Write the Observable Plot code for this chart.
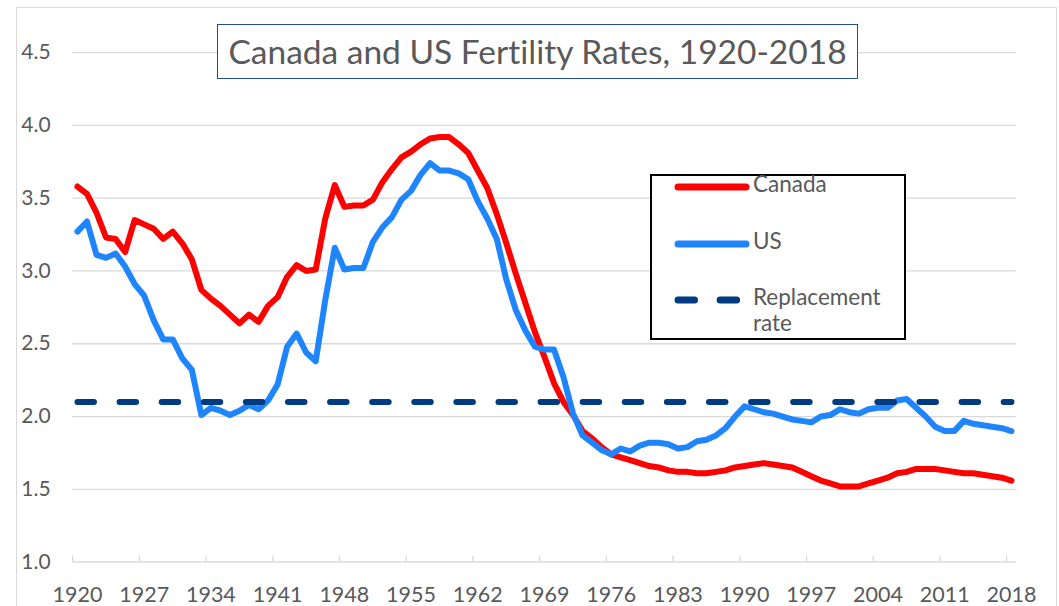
<!DOCTYPE html>
<html>
<head>
<meta charset="utf-8">
<script src="https://cdn.jsdelivr.net/npm/d3@7"></script>
<script src="https://cdn.jsdelivr.net/npm/@observablehq/plot@0.6"></script>
<style>
  html, body { margin: 0; padding: 0; background: #fff; overflow: hidden; }
  #wrap { position: relative; width: 1059px; height: 606px; font-family: Lato, "Open Sans", sans-serif; font-variant-ligatures: none; }
  #wrap svg text { font-variant-ligatures: none; }
  #frame { position: absolute; left: 16px; top: 7px; width: 1041px; height: 640px; box-sizing: border-box; border: 1.5px solid #D9D9D9; pointer-events: none; }
  #title { position: absolute; left: 217px; top: 23.5px; width: 641px; height: 55px; box-sizing: border-box;
           border: 1.5px solid #1F4E8C; background: #fff; color: #595959; font-size: 33.5px;
           display: flex; align-items: center; justify-content: center; white-space: nowrap; }
  #legend { position: absolute; left: 650px; top: 174px; width: 256px; height: 166px; box-sizing: border-box;
            border: 2px solid #000; background: #fff; color: #595959; font-size: 22.5px; }
  #legend svg { position: absolute; left: 0; top: 0; }
  .lt { position: absolute; left: 101px; line-height: 26px; white-space: nowrap; }
</style>
</head>
<body>
<div id="wrap">
  <div id="chart"></div>
  <div id="frame"></div>
  <div id="title">Canada and US Fertility Rates, 1920-2018</div>
  <div id="legend"></div>
</div>
<script>
// ---- data ----
const years = d3.range(1920, 2019);
const canada = [
  3.58, 3.53, 3.40, 3.23, 3.22, 3.13, 3.35, 3.32, 3.29, 3.22,
  3.27, 3.19, 3.08, 2.87, 2.81, 2.76, 2.70, 2.64, 2.70, 2.65,
  2.76, 2.82, 2.96, 3.04, 3.00, 3.01, 3.36, 3.59, 3.44, 3.45,
  3.45, 3.49, 3.61, 3.70, 3.78, 3.82, 3.87, 3.91, 3.92, 3.92,
  3.87, 3.81, 3.69, 3.57, 3.39, 3.19, 2.98, 2.78, 2.58, 2.41,
  2.23, 2.10, 2.01, 1.90, 1.85, 1.79, 1.74, 1.72, 1.70, 1.68,
  1.66, 1.65, 1.63, 1.62, 1.62, 1.61, 1.61, 1.62, 1.63, 1.65,
  1.66, 1.67, 1.68, 1.67, 1.66, 1.65, 1.62, 1.59, 1.56, 1.54,
  1.52, 1.52, 1.52, 1.54, 1.56, 1.58, 1.61, 1.62, 1.64, 1.64,
  1.64, 1.63, 1.62, 1.61, 1.61, 1.60, 1.59, 1.58, 1.56
];
const us = [
  3.27, 3.34, 3.11, 3.09, 3.12, 3.03, 2.91, 2.83, 2.66, 2.53,
  2.53, 2.40, 2.32, 2.01, 2.06, 2.04, 2.01, 2.04, 2.08, 2.05,
  2.11, 2.22, 2.48, 2.57, 2.44, 2.38, 2.80, 3.16, 3.01, 3.02,
  3.02, 3.20, 3.30, 3.37, 3.49, 3.55, 3.66, 3.74, 3.69, 3.69,
  3.67, 3.63, 3.48, 3.36, 3.22, 2.94, 2.73, 2.59, 2.48, 2.46,
  2.46, 2.27, 2.02, 1.87, 1.82, 1.77, 1.74, 1.78, 1.76, 1.80,
  1.82, 1.82, 1.81, 1.78, 1.79, 1.83, 1.84, 1.87, 1.92, 2.00,
  2.07, 2.05, 2.03, 2.02, 2.00, 1.98, 1.97, 1.96, 2.00, 2.01,
  2.05, 2.03, 2.02, 2.05, 2.06, 2.06, 2.11, 2.12, 2.06, 2.00,
  1.93, 1.90, 1.90, 1.97, 1.95, 1.94, 1.93, 1.92, 1.90
];
const replacementRate = 2.1;
const xTickLabels = [1920, 1927, 1934, 1941, 1948, 1955, 1962, 1969, 1976, 1983, 1990, 1997, 2004, 2011, 2018];
const yTicks = [1.0, 1.5, 2.0, 2.5, 3.0, 3.5, 4.0, 4.5];
const seriesNames = ["Canada", "US", "Replacement rate"];
const seriesColors = ["#FF0000", "#1E85FF", "#003A80"];

// ---- tables ----
const canadaRows = years.map((y, i) => ({year: y, value: canada[i]}));
const usRows = years.map((y, i) => ({year: y, value: us[i]}));
const replRows = [{year: years[0], value: replacementRate}, {year: years[years.length - 1], value: replacementRate}];
// category boundaries (Excel "between tick marks"), every 7 categories
const tickBounds = xTickLabels.map(y => y - 0.5);

const chart = Plot.plot({
  width: 1059,
  height: 606,
  marginLeft: 72.2,
  marginRight: 43.3,
  marginTop: 52.1,
  marginBottom: 44.4,
  style: {fontFamily: "Lato, 'Open Sans', sans-serif", background: "transparent", color: "#595959"},
  x: {type: "linear", domain: [years[0] - 0.5, years[years.length - 1] + 0.5]},
  y: {domain: [1, 4.5]},
  marks: [
    Plot.gridY(yTicks.slice(1), {stroke: "#D9D9D9", strokeOpacity: 1, strokeWidth: 1.3}),
    Plot.ruleY([yTicks[0]], {stroke: "#D9D9D9", strokeWidth: 1.5}),
    Plot.axisX(tickBounds, {tickSize: -6, tickFormat: () => "", stroke: "#D9D9D9", strokeWidth: 1.3, label: null}),
    Plot.axisX(xTickLabels, {tickSize: 0, tickPadding: 24.5, tickFormat: d => String(d), fontSize: 21.5, fill: "#595959", label: null}),
    Plot.axisY(yTicks, {tickSize: 0, tickPadding: 22, tickFormat: d3.format(".1f"), fontSize: 21, fill: "#595959", label: null}),
    Plot.line(canadaRows, {x: "year", y: "value", stroke: seriesColors[0], strokeWidth: 6, strokeLinejoin: "round", strokeLinecap: "round"}),
    Plot.line(usRows, {x: "year", y: "value", stroke: seriesColors[1], strokeWidth: 6, strokeLinejoin: "round", strokeLinecap: "round"}),
    Plot.line(replRows, {x: "year", y: "value", stroke: seriesColors[2], strokeWidth: 6, strokeLinecap: "round", strokeDasharray: "16.5 25.6"})
  ]
});
document.getElementById("chart").appendChild(chart);

// ---- legend ----
const legend = document.getElementById("legend");
const ns = "http://www.w3.org/2000/svg";
const sv = document.createElementNS(ns, "svg");
sv.setAttribute("width", 252); sv.setAttribute("height", 162);
const rowsY = [11, 68, 124];
seriesNames.forEach((name, i) => {
  const ln = document.createElementNS(ns, "line");
  ln.setAttribute("x1", 26); ln.setAttribute("x2", 94);
  ln.setAttribute("y1", rowsY[i]); ln.setAttribute("y2", rowsY[i]);
  ln.setAttribute("stroke", seriesColors[i]);
  ln.setAttribute("stroke-width", 7);
  ln.setAttribute("stroke-linecap", "round");
  if (i === 2) ln.setAttribute("stroke-dasharray", "16.5 25.6");
  sv.appendChild(ln);
});
legend.appendChild(sv);
const lines = [["Canada"], ["US"], ["Replacement", "rate"]];
lines.forEach((ls, i) => {
  ls.forEach((t, j) => {
    const d = document.createElement("div");
    d.className = "lt";
    d.textContent = t;
    d.style.top = (rowsY[i] - 16 + j * 26) + "px";
    legend.appendChild(d);
  });
});
</script>
</body>
</html>
